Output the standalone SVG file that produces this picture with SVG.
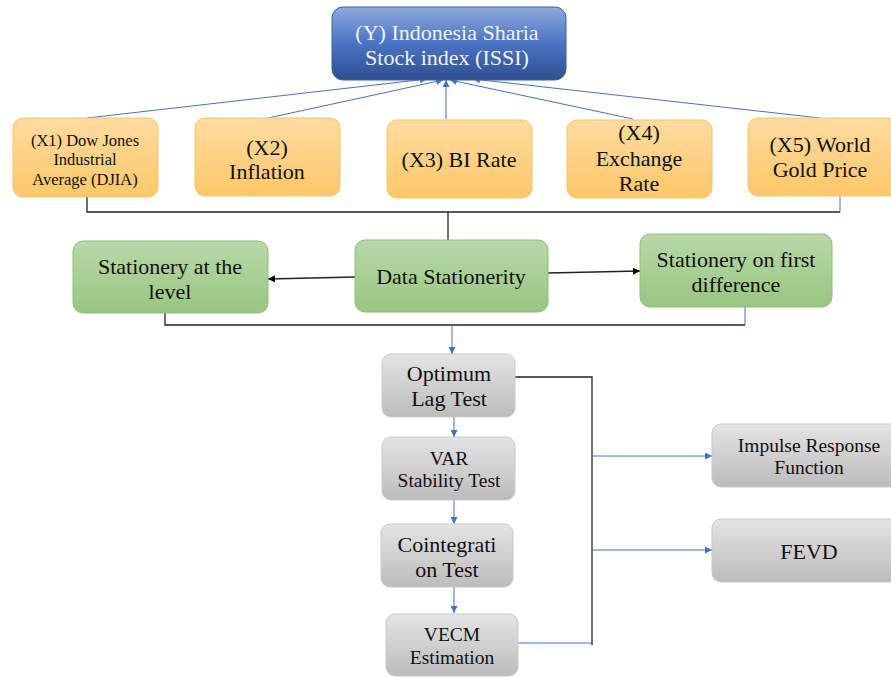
<svg xmlns="http://www.w3.org/2000/svg" width="891" height="677" viewBox="0 0 891 677">
<defs>
<linearGradient id="gBlue" x1="0" y1="0" x2="0" y2="1"><stop offset="0" stop-color="#8eaadc"/><stop offset="0.5" stop-color="#4a73c4"/><stop offset="1" stop-color="#2e5090"/></linearGradient>
<linearGradient id="gOr" x1="0" y1="0" x2="0" y2="1"><stop offset="0" stop-color="#fedb9f"/><stop offset="1" stop-color="#fcc867"/></linearGradient>
<linearGradient id="gGr" x1="0" y1="0" x2="0" y2="1"><stop offset="0" stop-color="#b8d9a8"/><stop offset="1" stop-color="#98c681"/></linearGradient>
<linearGradient id="gGy" x1="0" y1="0" x2="0" y2="1"><stop offset="0" stop-color="#e4e4e4"/><stop offset="1" stop-color="#bcbcbc"/></linearGradient>
<marker id="aB" viewBox="0 0 10 10" refX="10" refY="5" markerWidth="7" markerHeight="7" orient="auto-start-reverse" markerUnits="userSpaceOnUse"><path d="M0,0L10,5L0,10z" fill="#4472c4"/></marker>
<marker id="aK" viewBox="0 0 10 10" refX="10" refY="5" markerWidth="7" markerHeight="7" orient="auto-start-reverse" markerUnits="userSpaceOnUse"><path d="M0,0L10,5L0,10z" fill="#000"/></marker>
</defs>
<style>
text{font-family:'Liberation Serif',serif;text-anchor:middle;fill:#111}
.or{fill:url(#gOr);stroke:#f6c56a;stroke-width:1}
.gr{fill:url(#gGr);stroke:#8fbf78;stroke-width:1}
.gy{fill:url(#gGy);stroke:#c9c9c9;stroke-width:1}
.bl{fill:url(#gBlue);stroke:#3a62ad;stroke-width:1}
.cb{stroke:#4472c4;stroke-width:1;fill:none}
.ck{stroke:#222;stroke-width:1.3;fill:none}
.f22{font-size:22px}.f19{font-size:19.5px}.f16{font-size:16.5px}
</style>
<g id="connectors">
<line class="cb" x1="87" y1="118" x2="427" y2="79" marker-end="url(#aB)"/>
<line class="cb" x1="268" y1="118" x2="443" y2="80" marker-end="url(#aB)"/>
<line class="cb" x1="446" y1="119" x2="446" y2="80" marker-end="url(#aB)"/>
<line class="cb" x1="633" y1="119" x2="450" y2="80" marker-end="url(#aB)"/>
<line class="cb" x1="820" y1="118" x2="473" y2="79" marker-end="url(#aB)"/>
<polyline class="ck" points="87,197 87,212 840,212"/>
<line class="cb" x1="840" y1="196" x2="840" y2="212"/>
<line class="ck" x1="448" y1="212" x2="448" y2="240"/>
<line class="ck" x1="355" y1="277" x2="268" y2="279" marker-end="url(#aK)"/>
<line class="ck" x1="548" y1="273" x2="640" y2="271" marker-end="url(#aK)"/>
<polyline class="ck" points="165,313 165,325 745,325"/>
<line class="cb" x1="745" y1="307" x2="745" y2="325"/>
<line class="cb" x1="452" y1="325" x2="452" y2="354" marker-end="url(#aB)"/>
<line class="cb" x1="454" y1="417" x2="454" y2="437" marker-end="url(#aB)"/>
<line class="cb" x1="454" y1="500" x2="454" y2="524" marker-end="url(#aB)"/>
<line class="cb" x1="454" y1="587" x2="454" y2="613" marker-end="url(#aB)"/>
<polyline class="ck" points="515,377 592,377 592,645"/>
<line class="cb" x1="518" y1="643" x2="592" y2="643"/>
<line class="cb" x1="592" y1="456" x2="712" y2="456" marker-end="url(#aB)"/>
<line class="cb" x1="592" y1="550" x2="712" y2="550" marker-end="url(#aB)"/>
</g>
<g id="issi"><rect class="bl" x="332" y="7" width="234" height="73" rx="11"/>
<text class="f22" style="fill:#f2f2f2" x="447" y="40">(Y) Indonesia Sharia</text>
<text class="f22" style="fill:#f2f2f2" x="447" y="65">Stock index (ISSI)</text></g>
<g id="x1"><rect class="or" x="13" y="118" width="145" height="79" rx="10"/>
<text class="f16" x="85" y="146">(X1) Dow Jones</text><text class="f16" x="85" y="165">Industrial</text><text class="f16" x="85" y="185">Average (DJIA)</text></g>
<g id="x2"><rect class="or" x="195" y="118" width="145" height="78" rx="10"/>
<text class="f22" x="267" y="155">(X2)</text><text class="f22" x="267" y="179">Inflation</text></g>
<g id="x3"><rect class="or" x="387" y="120" width="145" height="78" rx="10"/>
<text class="f22" x="459" y="167">(X3) BI Rate</text></g>
<g id="x4"><rect class="or" x="567" y="120" width="145" height="78" rx="10"/>
<text class="f22" x="639" y="140">(X4)</text><text class="f22" x="639" y="166">Exchange</text><text class="f22" x="639" y="191">Rate</text></g>
<g id="x5"><rect class="or" x="748" y="118" width="150" height="78" rx="10"/>
<text class="f22" x="820" y="152">(X5) World</text><text class="f22" x="820" y="177">Gold Price</text></g>
<g id="level"><rect class="gr" x="73" y="241" width="195" height="72" rx="10"/>
<text class="f22" x="170" y="274">Stationery at the</text><text class="f22" x="170" y="299">level</text></g>
<g id="data"><rect class="gr" x="355" y="240" width="193" height="72" rx="10"/>
<text class="f22" x="451" y="284">Data Stationerity</text></g>
<g id="first"><rect class="gr" x="640" y="234" width="192" height="73" rx="10"/>
<text class="f22" x="736" y="267">Stationery on first</text><text class="f22" x="736" y="292">difference</text></g>
<g id="optimum"><rect class="gy" x="382" y="354" width="133" height="63" rx="9"/>
<text class="f22" x="449" y="381">Optimum</text><text class="f22" x="449" y="406">Lag Test</text></g>
<g id="var"><rect class="gy" x="382" y="437" width="133" height="63" rx="9"/>
<text class="f19" x="449" y="465">VAR</text><text class="f19" x="449" y="487">Stability Test</text></g>
<g id="coint"><rect class="gy" x="381" y="524" width="132" height="63" rx="9"/>
<text class="f22" x="447" y="552">Cointegrati</text><text class="f22" x="447" y="577">on Test</text></g>
<g id="vecm"><rect class="gy" x="386" y="614" width="132" height="62" rx="9"/>
<text class="f19" x="452" y="641">VECM</text><text class="f19" x="452" y="664">Estimation</text></g>
<g id="irf"><rect class="gy" x="712" y="424" width="190" height="63" rx="9"/>
<text class="f19" x="809" y="452">Impulse Response</text><text class="f19" x="809" y="474">Function</text></g>
<g id="fevd"><rect class="gy" x="712" y="519" width="190" height="63" rx="9"/>
<text class="f22" x="809" y="559">FEVD</text></g>
</svg>
